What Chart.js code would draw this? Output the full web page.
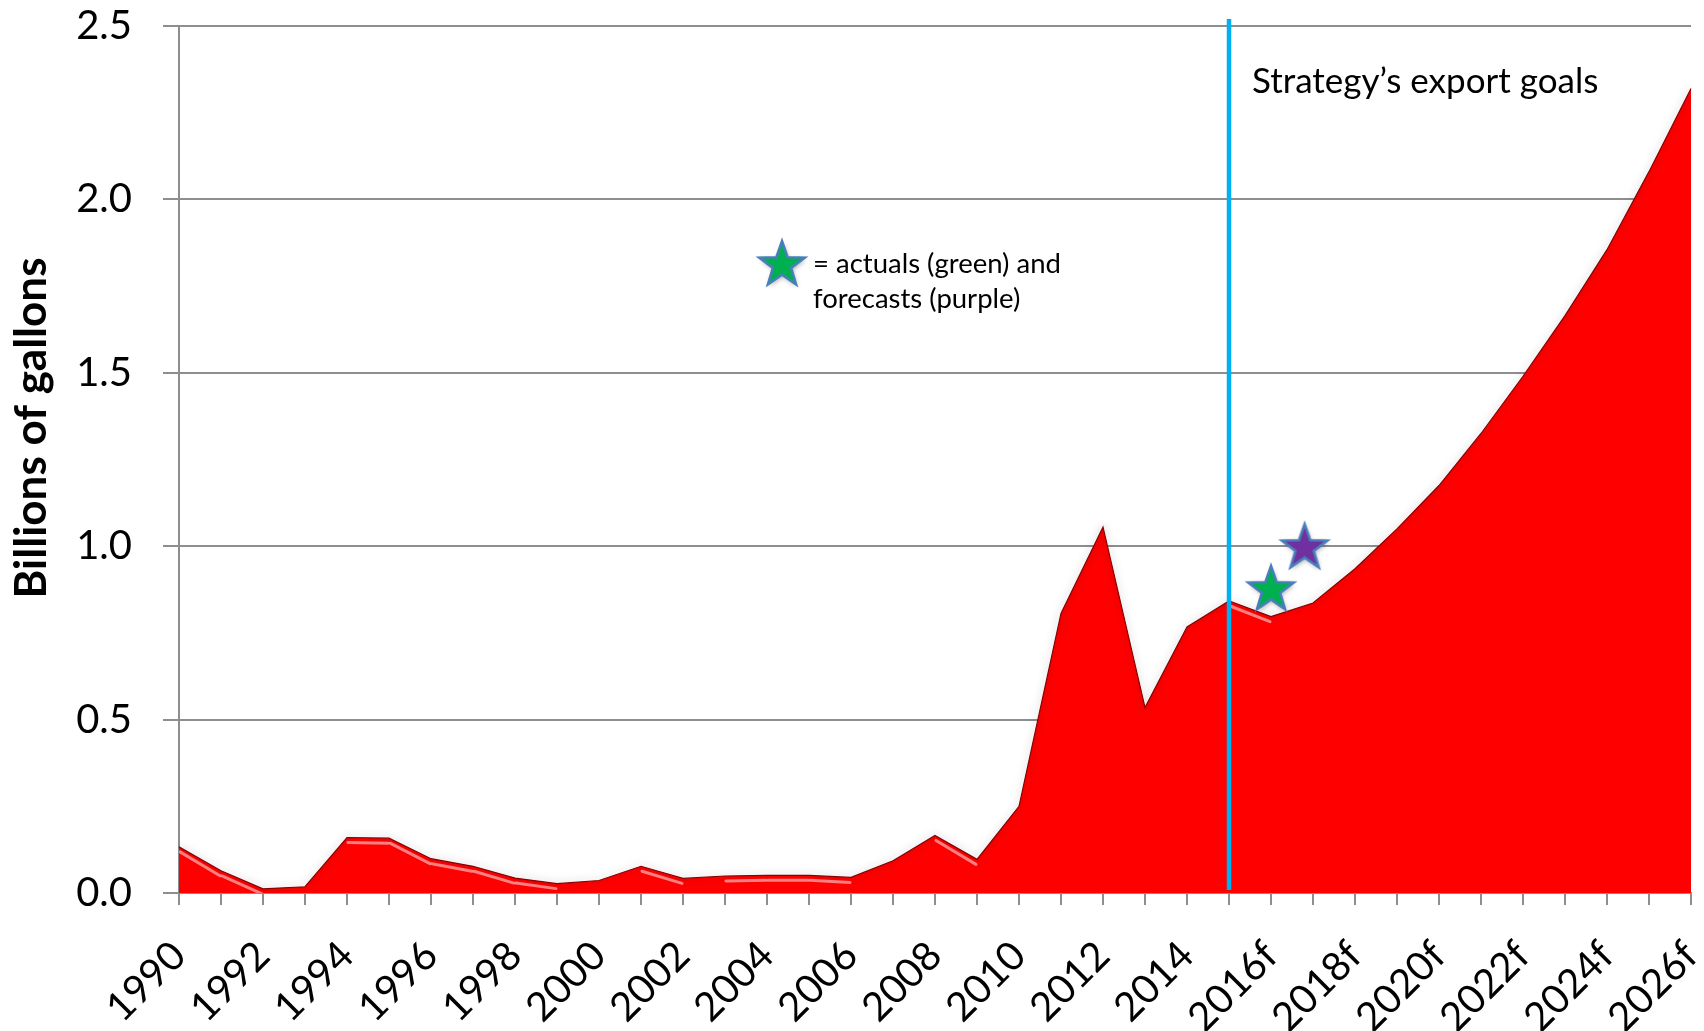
<!DOCTYPE html>
<html><head><meta charset="utf-8">
<script src="https://cdn.jsdelivr.net/npm/chart.js@4.4.0/dist/chart.umd.min.js"></script>
<style>html,body{margin:0;padding:0;background:#fff;overflow:hidden}#wrap{width:1704px;height:1031px}</style>
</head><body><div id="wrap"><canvas id="c" width="1704" height="1031"></canvas></div>
<script>
const years = ['1990','1991','1992','1993','1994','1995','1996','1997','1998','1999',
  '2000','2001','2002','2003','2004','2005','2006','2007','2008','2009',
  '2010','2011','2012','2013','2014','2015','2016f','2017f','2018f','2019f',
  '2020f','2021f','2022f','2023f','2024f','2025f','2026f'];
const exportsBn = [0.133,0.064,0.012,0.018,0.160,0.158,0.099,0.077,0.043,0.027,
  0.036,0.077,0.042,0.049,0.051,0.051,0.045,0.093,0.166,0.097,
  0.250,0.806,1.055,0.535,0.767,0.842,0.797,0.836,0.935,1.050,
  1.175,1.325,1.490,1.665,1.855,2.080,2.320];
const actualStar = [{x:2016, y:0.877}];
const forecastStar = [{x:2016.8, y:0.998}];
const yTicks = [0,0.5,1,1.5,2,2.5];
const goalStartYear = '2015';
const FONT = 'Lato, "Open Sans", sans-serif';
const PLOT_RIGHT = 1691;

function makeStar(fill, R){
  const pad = 10, s = 2*R + 2*pad;
  const c = document.createElement('canvas'); c.width = s; c.height = s;
  const g = c.getContext('2d');
  g.translate(s/2, s/2 + 1);
  g.beginPath();
  for (let i = 0; i < 10; i++){
    const r = i % 2 === 0 ? R : R*0.4;
    const a = -Math.PI/2 + i*Math.PI/5;
    const px = r*Math.cos(a), py = r*Math.sin(a);
    if (i === 0) g.moveTo(px, py); else g.lineTo(px, py);
  }
  g.closePath();
  g.save();
  g.shadowColor = 'rgba(0,0,0,0.35)'; g.shadowBlur = 5; g.shadowOffsetX = 1; g.shadowOffsetY = 2;
  g.fillStyle = fill; g.fill();
  g.restore();
  g.lineJoin = 'miter'; g.strokeStyle = '#4a7ebb'; g.lineWidth = 2.5; g.stroke();
  return c;
}
const greenStar = makeStar('#00b050', 24);
const purpleStar = makeStar('#7030a0', 24);

const noPad = s => { s.paddingLeft = 0; s.paddingRight = 0; s.paddingTop = 0; s.paddingBottom = 0; };

const deco = {
  id: 'deco',
  afterLayout(chart){
    const ca = chart.chartArea;
    ca.right = PLOT_RIGHT; ca.width = PLOT_RIGHT - ca.left;
    ['x','x2'].forEach(id => {
      const s = chart.scales[id];
      s.right = PLOT_RIGHT; s.width = PLOT_RIGHT - s.left;
      s.configure();
    });
  },
  beforeDatasetDraw(chart, args){
    if (args.meta.type === 'line' && args.index === 0){
      const ctx = chart.ctx; ctx.save();
      ctx.shadowColor = 'rgba(0,0,0,0.4)'; ctx.shadowBlur = 8;
    }
  },
  afterDatasetDraw(chart, args){
    if (!(args.meta.type === 'line' && args.index === 0)) return;
    const ctx = chart.ctx; ctx.restore();
    const pts = args.meta.data, area = chart.chartArea, bottom = chart.scales.y.getPixelForValue(0);
    // soft highlight strip just under the top edge (bevel look)
    ctx.save();
    ctx.beginPath(); ctx.moveTo(pts[0].x, bottom);
    pts.forEach(p => ctx.lineTo(p.x, p.y));
    ctx.lineTo(pts[pts.length-1].x, bottom); ctx.closePath(); ctx.clip();
    ctx.strokeStyle = 'rgba(255,170,170,0.75)'; ctx.lineWidth = 3; ctx.lineCap = 'round';
    for (let i = 0; i < pts.length - 1; i++){
      const dx = pts[i+1].x - pts[i].x, dy = pts[i+1].y - pts[i].y;
      if (dy >= -1 && dy < dx * 0.9){
        ctx.beginPath(); ctx.moveTo(pts[i].x + 1, pts[i].y + 5); ctx.lineTo(pts[i+1].x - 1, pts[i+1].y + 5); ctx.stroke();
      }
    }
    ctx.restore();
    // vertical goal line
    const xs = chart.scales.x.getPixelForValue(years.indexOf(goalStartYear));
    ctx.save();
    ctx.strokeStyle = '#00b0f0'; ctx.lineWidth = 4.5;
    ctx.beginPath(); ctx.moveTo(xs, area.top - 7); ctx.lineTo(xs, bottom - 3); ctx.stroke();
    ctx.restore();
  },
  afterDraw(chart){
    const ctx = chart.ctx;
    ctx.save();
    ctx.fillStyle = '#000';
    ctx.font = 'bold 44px ' + FONT;
    ctx.translate(32, 428); ctx.rotate(-Math.PI/2);
    ctx.textAlign = 'center'; ctx.textBaseline = 'middle';
    ctx.fillText('Billions of gallons', 0, 0);
    ctx.restore();
    ctx.save();
    ctx.fillStyle = '#000'; ctx.textAlign = 'left'; ctx.textBaseline = 'middle';
    ctx.font = '35px ' + FONT;
    ctx.fillText('Strategy\u2019s export goals', 1252, 82);
    ctx.font = '27.5px ' + FONT;
    ctx.fillText('= actuals (green) and', 813, 264);
    ctx.fillText('forecasts (purple)', 813, 299);
    ctx.drawImage(greenStar, 782 - greenStar.width/2, 264 - greenStar.height/2);
    ctx.restore();
  }
};

new Chart(document.getElementById('c'), {
  type: 'line',
  data: {
    labels: years,
    datasets: [
      {
        type: 'line', data: exportsBn, order: 2,
        fill: 'origin', backgroundColor: '#ff0000',
        borderColor: '#8a0000', borderWidth: 1.2, tension: 0,
        pointRadius: 0, pointHoverRadius: 0
      },
      {
        type: 'scatter', data: actualStar, xAxisID: 'x2', order: 1,
        pointStyle: greenStar, pointRadius: 24, showLine: false
      },
      {
        type: 'scatter', data: forecastStar, xAxisID: 'x2', order: 1,
        pointStyle: purpleStar, pointRadius: 24, showLine: false
      }
    ]
  },
  options: {
    responsive: false, animation: false, devicePixelRatio: 1,
    layout: { padding: { top: 26, right: 13, left: 0, bottom: 0 } },
    plugins: { legend: { display: false }, tooltip: { enabled: false } },
    scales: {
      x: {
        type: 'category', offset: false,
        grid: { display: true, drawOnChartArea: false, drawTicks: true, tickLength: 12, color: '#8e8e8e', lineWidth: 2 },
        border: { display: true, color: '#8e8e8e', width: 2 },
        ticks: {
          autoSkip: false, maxRotation: 45, minRotation: 45, padding: 27,
          color: '#000', font: { family: FONT, size: 40 },
          callback: (v, i) => (i % 2 === 0 ? years[i] : '')
        },
        afterFit: s => { s.height = 1031 - 893; noPad(s); }
      },
      x2: {
        type: 'linear', min: 1990, max: 2026, display: false,
        ticks: { display: false }, grid: { display: false },
        afterFit: s => { s.height = 0; noPad(s); }
      },
      y: {
        min: 0, max: 2.5,
        afterBuildTicks: s => { s.ticks = yTicks.map(v => ({ value: v })); },
        grid: { color: '#8e8e8e', lineWidth: 2, tickLength: 16, drawTicks: true },
        border: { display: true, color: '#8e8e8e', width: 2 },
        ticks: { color: '#000', padding: 31, font: { family: FONT, size: 40 }, callback: v => v.toFixed(1) },
        afterFit: s => { s.width = 179; noPad(s); }
      }
    }
  },
  plugins: [deco]
});
</script>
</body></html>
